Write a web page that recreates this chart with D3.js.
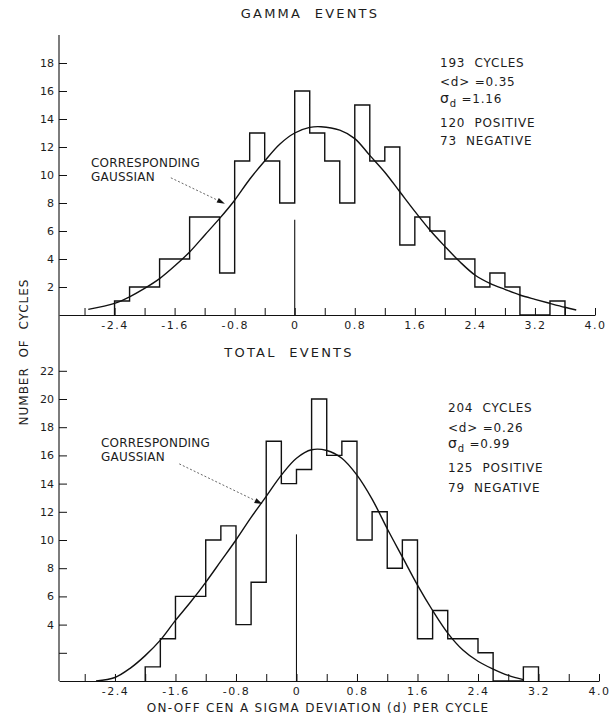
<!DOCTYPE html>
<html>
<head>
<meta charset="utf-8">
<script src="https://cdn.jsdelivr.net/npm/d3@7"></script>
<style>
  body { margin: 0; background: #fff; }
  text { font-family: "DejaVu Sans", "Liberation Sans", sans-serif; fill: #1c1c1c; white-space: pre; }
</style>
</head>
<body>
<script>
// gamma events histogram (bin width 0.2, left edges)
var gammaBins = [-2.4, -2.2, -2.0, -1.8, -1.6, -1.4, -1.2, -1.0, -0.8, -0.6, -0.4, -0.2,
                 0, 0.2, 0.4, 0.6, 0.8, 1.0, 1.2, 1.4, 1.6, 1.8, 2.0, 2.2, 2.4, 2.6, 2.8, 3.0, 3.2, 3.4];
var gammaCounts = [1, 2, 2, 4, 4, 7, 7, 3, 11, 13, 11, 8,
                   16, 13, 11, 8, 15, 11, 12, 5, 7, 6, 4, 4, 2, 3, 2, 0, 0, 1];

// total events histogram
var totalBins = [-2.0, -1.8, -1.6, -1.4, -1.2, -1.0, -0.8, -0.6, -0.4, -0.2,
                 0, 0.2, 0.4, 0.6, 0.8, 1.0, 1.2, 1.4, 1.6, 1.8, 2.0, 2.2, 2.4, 2.6, 2.8, 3.0];
var totalCounts = [1, 3, 6, 6, 10, 11, 4, 7, 17, 14,
                   15, 20, 16, 17, 10, 12, 8, 10, 3, 5, 3, 3, 2, 0, 0, 1];
var binWidth = 0.2;

// corresponding gaussians
var gammaCurveX = [-2.75, -2.4, -2.2, -2.0, -1.8, -1.6, -1.4, -1.2, -1.0, -0.8, -0.6, -0.4, -0.2, 0,
                   0.2, 0.35, 0.6, 0.8, 1.0, 1.2, 1.4, 1.6, 1.8, 2.0, 2.2, 2.4, 2.6, 2.8, 3.0, 3.2, 3.4, 3.6, 3.75];
var gammaCurveY = [0.4, 0.83, 1.3, 1.9, 2.6, 3.5, 4.5, 5.7, 6.9, 8.2, 9.7, 11.0, 12.2, 13.0,
                   13.4, 13.45, 13.2, 12.6, 11.4, 10.2, 8.8, 7.4, 6.07, 4.9, 3.8, 2.86, 2.26, 1.83, 1.43, 1.12, 0.83, 0.55, 0.36];
var totalCurveX = [-2.65, -2.4, -2.2, -2.0, -1.8, -1.6, -1.4, -1.2, -1.0, -0.8, -0.6, -0.4, -0.2, 0,
                   0.2, 0.4, 0.6, 0.8, 1.0, 1.2, 1.4, 1.6, 1.8, 2.0, 2.2, 2.4, 2.6, 2.8, 3.0];
var totalCurveY = [0, 0.25, 0.9, 1.8, 2.9, 4.3, 5.6, 7.0, 8.5, 10.0, 11.6, 13.1, 14.6, 15.8,
                   16.4, 16.35, 15.8, 14.6, 12.9, 10.8, 8.8, 6.8, 5.0, 3.4, 2.2, 1.4, 0.85, 0.4, 0.1];

// height of the marker line at d = 0
var gammaZeroLine = 6.8;
var totalZeroLine = 10.4;

// axes
var xTicks = [-2.8, -2.4, -2.0, -1.6, -1.2, -0.8, -0.4, 0, 0.4, 0.8, 1.2, 1.6, 2.0, 2.4, 2.8, 3.2, 3.6, 4.0];
var xLabelTicks = [-2.4, -1.6, -0.8, 0, 0.8, 1.6, 2.4, 3.2, 4.0];
var xLabels = ["-2.4", "-1.6", "-0.8", "0", "0.8", "1.6", "2.4", "3.2", "4.0"];
var gammaYTicks = [2, 4, 6, 8, 10, 12, 14, 16, 18];
var totalYTicks = [2, 4, 6, 8, 10, 12, 14, 16, 18, 20, 22];
var totalYLabels = ["", "4", "6", "8", "10", "12", "14", "16", "18", "20", "22"];

var gammaNotes = ["193  CYCLES", "<d> =0.35", ["σ", "d", " =1.16"], "120  POSITIVE", "73  NEGATIVE"];
var totalNotes = ["204  CYCLES", "<d> =0.26", ["σ", "d", " =0.99"], "125  POSITIVE", "79  NEGATIVE"];

var width = 613, height = 719;

var svg = d3.select("body").append("svg")
    .attr("width", width)
    .attr("height", height);

var xTop = d3.scaleLinear().domain([-3.14, 4.0]).range([59, 595]);
var yTop = d3.scaleLinear().domain([0, 20]).range([315, 35]);
var xBot = d3.scaleLinear().domain([-3.14, 4.0]).range([59, 599]);
var yBot = d3.scaleLinear().domain([0, 22]).range([681, 370.8]);

// one long vertical axis line for both panels
svg.append("line")
    .attr("x1", 59).attr("x2", 59)
    .attr("y1", yTop(20)).attr("y2", yBot(0))
    .attr("stroke", "#111").attr("stroke-width", 1.1);

function drawPanel(x, y, bins, counts, curveX, curveY, zeroLine, yTicks, yLabels, notes, noteX, noteY, arrow, labelPos) {
    var xAxis = d3.axisBottom(x)
        .tickValues(xTicks)
        .tickSizeInner(-7)
        .tickSizeOuter(0)
        .tickPadding(6)
        .tickFormat(function (d) {
            var i = xLabelTicks.indexOf(d);
            return i < 0 ? "" : xLabels[i];
        });

    var gx = svg.append("g")
        .attr("transform", "translate(0," + y(0) + ")")
        .call(xAxis);
    gx.select(".domain").attr("stroke", "#111").attr("stroke-width", 1.2);
    gx.selectAll(".tick line").attr("stroke", "#111").attr("stroke-width", 1);
    gx.selectAll(".tick text")
        .attr("font-size", 11)
        .attr("letter-spacing", 1.5)
        .attr("font-family", "DejaVu Sans, sans-serif")
        .attr("fill", "#1c1c1c");

    var yAxis = d3.axisLeft(y)
        .tickValues(yTicks)
        .tickSizeInner(-8)
        .tickSizeOuter(0)
        .tickPadding(5)
        .tickFormat(function (d, i) { return yLabels ? yLabels[i] : String(d); });

    var gy = svg.append("g")
        .attr("transform", "translate(59,0)")
        .call(yAxis);
    gy.select(".domain").remove();
    gy.selectAll(".tick line").attr("stroke", "#111").attr("stroke-width", 1);
    gy.selectAll(".tick text")
        .attr("font-size", 11)
        .attr("font-family", "DejaVu Sans, sans-serif")
        .attr("fill", "#1c1c1c");

    // step outline of the histogram
    var pts = [[bins[0], 0]];
    bins.forEach(function (b, i) { pts.push([b, counts[i]]); });
    pts.push([bins[bins.length - 1] + binWidth, 0]);

    var step = d3.line()
        .x(function (d) { return x(d[0]); })
        .y(function (d) { return y(d[1]); })
        .curve(d3.curveStepAfter);

    svg.append("path")
        .datum(pts)
        .attr("d", step)
        .attr("fill", "none")
        .attr("stroke", "#111")
        .attr("stroke-width", 1.4);

    // marker at d = 0
    svg.append("line")
        .attr("x1", x(0)).attr("x2", x(0))
        .attr("y1", y(0)).attr("y2", y(zeroLine))
        .attr("stroke", "#111").attr("stroke-width", 1.1);

    // gaussian
    var curve = d3.line()
        .x(function (d) { return x(d[0]); })
        .y(function (d) { return y(d[1]); })
        .curve(d3.curveCatmullRom);

    svg.append("path")
        .datum(curveX.map(function (v, i) { return [v, curveY[i]]; }))
        .attr("d", curve)
        .attr("fill", "none")
        .attr("stroke", "#111")
        .attr("stroke-width", 1.4);

    // statistics block
    notes.forEach(function (n, i) {
        var t = svg.append("text")
            .attr("x", noteX).attr("y", noteY[i])
            .attr("font-size", 12)
            .attr("letter-spacing", 0.8);
        if (typeof n === "string") {
            t.text(n);
        } else {
            t.append("tspan").text(n[0]).attr("font-size", 14);
            t.append("tspan").text(n[1]).attr("font-size", 10).attr("dy", 4);
            t.append("tspan").text(n[2]).attr("dy", -4);
        }
    });

    // label + dotted arrow
    svg.append("text").attr("x", labelPos[0]).attr("y", labelPos[1])
        .attr("font-size", 12).attr("letter-spacing", 0.2).text("CORRESPONDING");
    svg.append("text").attr("x", labelPos[0]).attr("y", labelPos[1] + 14)
        .attr("font-size", 12).attr("letter-spacing", 0.2).text("GAUSSIAN");

    var x1 = x(arrow[0]), y1 = y(arrow[1]), x2 = x(arrow[2]), y2 = y(arrow[3]);
    var ang = Math.atan2(y2 - y1, x2 - x1);
    var hl = 8, hw = 2.6;
    var bx = x2 - hl * Math.cos(ang), by = y2 - hl * Math.sin(ang);
    svg.append("line")
        .attr("x1", x1).attr("y1", y1)
        .attr("x2", bx).attr("y2", by)
        .attr("stroke", "#555").attr("stroke-width", 0.9)
        .attr("stroke-dasharray", "2,2");
    svg.append("path")
        .attr("d", "M" + x2 + "," + y2 +
            "L" + (bx + hw * Math.sin(ang)) + "," + (by - hw * Math.cos(ang)) +
            "L" + (bx - hw * Math.sin(ang)) + "," + (by + hw * Math.cos(ang)) + "Z")
        .attr("fill", "#111");
}

drawPanel(xTop, yTop, gammaBins, gammaCounts, gammaCurveX, gammaCurveY, gammaZeroLine,
    gammaYTicks, null, gammaNotes, 440, [67, 86, 103, 127, 145],
    [-1.65, 9.8, -0.93, 7.95], [91, 167]);

drawPanel(xBot, yBot, totalBins, totalCounts, totalCurveX, totalCurveY, totalZeroLine,
    totalYTicks, totalYLabels, totalNotes, 448, [412, 432, 448, 472, 492],
    [-1.55, 15.4, -0.45, 12.55], [101, 447]);

// titles
svg.append("text").attr("x", 310).attr("y", 18).attr("text-anchor", "middle")
    .attr("font-size", 13).attr("letter-spacing", 2.2).text("GAMMA  EVENTS");
svg.append("text").attr("x", 289).attr("y", 357).attr("text-anchor", "middle")
    .attr("font-size", 13).attr("letter-spacing", 2.2).text("TOTAL  EVENTS");

svg.append("text").attr("x", 318).attr("y", 712).attr("text-anchor", "middle")
    .attr("font-size", 12).attr("letter-spacing", 1.3)
    .text("ON-OFF CEN A SIGMA DEVIATION (d) PER CYCLE");

svg.append("text")
    .attr("transform", "translate(28,352) rotate(-90)")
    .attr("text-anchor", "middle")
    .attr("font-size", 12).attr("letter-spacing", 1.0)
    .text("NUMBER  OF  CYCLES");
</script>
</body>
</html>
